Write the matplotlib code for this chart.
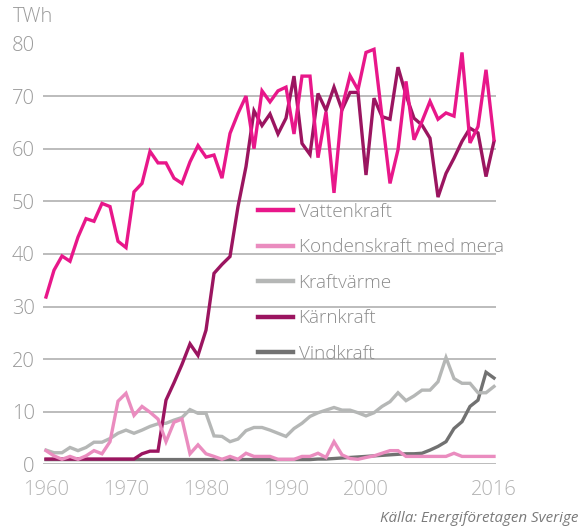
import matplotlib
matplotlib.use("Agg")
import matplotlib.pyplot as plt
from matplotlib import font_manager as fm

years = list(range(1960, 2017))

vattenkraft = [31.8, 36.9, 39.6, 38.6, 43.2, 46.7, 46.2, 49.6, 49.0, 42.4,
               41.2, 51.8, 53.4, 59.5, 57.3, 57.3, 54.4, 53.4, 57.5, 60.6,
               58.4, 58.8, 54.4, 62.9, 66.7, 70.0, 60.0, 71.0, 68.9, 71.0,
               71.7, 62.8, 73.8, 73.8, 58.3, 67.0, 51.6, 67.8, 73.9, 71.2,
               78.3, 78.9, 66.1, 53.4, 59.8, 72.8, 61.7, 65.2, 69.0, 65.6,
               66.8, 66.2, 78.3, 61.1, 64.2, 75.0, 61.7]

kondenskraft = [2.6, 1.6, 0.95, 1.5, 0.95, 1.6, 2.6, 2.0, 4.3, 12.0,
                13.5, 9.3, 11.0, 9.9, 8.6, 4.3, 8.0, 8.6, 2.0, 3.7,
                2.0, 1.5, 0.95, 1.5, 0.95, 2.1, 1.5, 1.5, 1.5, 0.95,
                0.95, 0.95, 1.5, 1.5, 2.1, 1.3, 4.3, 1.8, 1.1, 0.95,
                1.3, 1.6, 2.1, 2.6, 2.6, 1.5, 1.5, 1.5, 1.5, 1.5,
                1.5, 2.1, 1.5, 1.5, 1.5, 1.5, 1.5]

kraftvarme = [2.7, 2.2, 2.2, 3.2, 2.6, 3.2, 4.2, 4.2, 4.9, 5.9,
              6.5, 5.9, 6.5, 7.2, 7.7, 7.8, 8.4, 8.9, 10.4, 9.7,
              9.7, 5.4, 5.3, 4.3, 4.8, 6.4, 7.0, 7.0, 6.5, 5.9,
              5.3, 6.8, 7.8, 9.1, 9.8, 10.3, 10.8, 10.3, 10.3, 9.8,
              9.2, 9.8, 11.0, 11.9, 13.6, 12.1, 13.0, 14.1, 14.1, 15.7,
              20.3, 16.3, 15.4, 15.4, 13.6, 13.6, 14.8]

karnkraft = [1.0, 1.0, 1.0, 1.0, 1.0, 1.0, 1.0, 1.0, 1.0, 1.0,
             1.0, 1.0, 2.0, 2.5, 2.5, 12.2, 15.5, 19.0, 22.9, 20.7,
             25.5, 36.3, 38.0, 39.5, 49.0, 56.6, 67.2, 64.4, 66.6, 62.8,
             65.8, 73.8, 61.0, 58.9, 70.5, 67.3, 71.7, 67.4, 70.7, 70.7,
             55.0, 69.6, 66.1, 65.6, 75.5, 70.2, 65.8, 64.5, 62.0, 50.8,
             55.3, 58.2, 61.4, 63.9, 63.0, 54.7, 61.4]

vindkraft = [0.9] * 34 + [1.0, 1.0, 1.1, 1.2, 1.3, 1.4,
             1.5, 1.6, 1.7, 1.8, 1.9, 2.0, 2.0, 2.1, 2.7, 3.4,
             4.3, 6.8, 8.1, 11.0, 12.2, 17.5, 16.4]

series_names = ["Vattenkraft", "Kondenskraft med mera", "Kraftvärme",
                "Kärnkraft", "Vindkraft"]
series_colors = ["#e8178a", "#ea8cbf", "#b5b7b6", "#9b1560", "#717171"]
series_z = [5, 6, 3, 4, 2]
series_data = [vattenkraft, kondenskraft, kraftvarme, karnkraft, vindkraft]

xtick_values = [1960, 1970, 1980, 1990, 2000, 2016]
ytick_values = [0, 10, 20, 30, 40, 50, 60, 70, 80]

avail = {f.name for f in fm.fontManager.ttflist}
family = "Open Sans" if "Open Sans" in avail else "DejaVu Sans"
plt.rcParams["font.family"] = [family, "DejaVu Sans"]

fig = plt.figure(figsize=(5.81, 5.30), dpi=100)
ax = fig.add_axes([43 / 581, 1 - 464.3 / 530, (496 - 43) / 581, (464.3 - 43.5) / 530])

handles = []
for name, col, z, vals in zip(series_names, series_colors, series_z, series_data):
    h, = ax.plot(years, vals, color=col, lw=2.4, zorder=z, label=name,
                 solid_joinstyle="miter", clip_on=False)
    handles.append(h)

ax.set_xlim(1960 - 3 / 8, 2016 + 2 / 8)
ax.set_ylim(0, 80)
ax.set_yticks(ytick_values)
ax.set_xticks(xtick_values)
ax.set_xticklabels([str(v) for v in xtick_values])
for v in ytick_values:
    ax.axhline(v, color="#a9a9a9", lw=1.1, zorder=1)

for s in ax.spines.values():
    s.set_visible(False)
ax.tick_params(axis="both", length=0)
ax.tick_params(axis="y", pad=6, labelsize=14.5, labelcolor="#9a9a9a")
ax.tick_params(axis="x", pad=11, labelsize=14.5, labelcolor="#b3b3b3")
for lab in ax.get_xticklabels() + ax.get_yticklabels():
    lab.set_fontweight("light")

fig.text(13 / 581, 1 - 17 / 530, "TWh", fontsize=14.5, color="#9a9a9a",
         ha="left", va="center", fontweight="light")

leg = ax.legend(handles=handles, loc="upper left",
                bbox_to_anchor=(258 / 581, 1 - 203 / 530),
                bbox_transform=fig.transFigure, frameon=False,
                fontsize=13.6, labelcolor="#8c8c8c", handlelength=1.85,
                handletextpad=0.3, labelspacing=0.92, borderpad=0,
                borderaxespad=0)
for t in leg.get_texts():
    t.set_fontweight("light")
for lh in leg.get_lines():
    lh.set_linewidth(3.2)
leg.set_zorder(10)

fig.text(578 / 581, 1 - 518 / 530, "Källa: Energiföretagen Sverige",
         fontsize=10.9, style="italic", color="#7a7a7a", ha="right", va="center")

fig.savefig("out.png", dpi=100)
